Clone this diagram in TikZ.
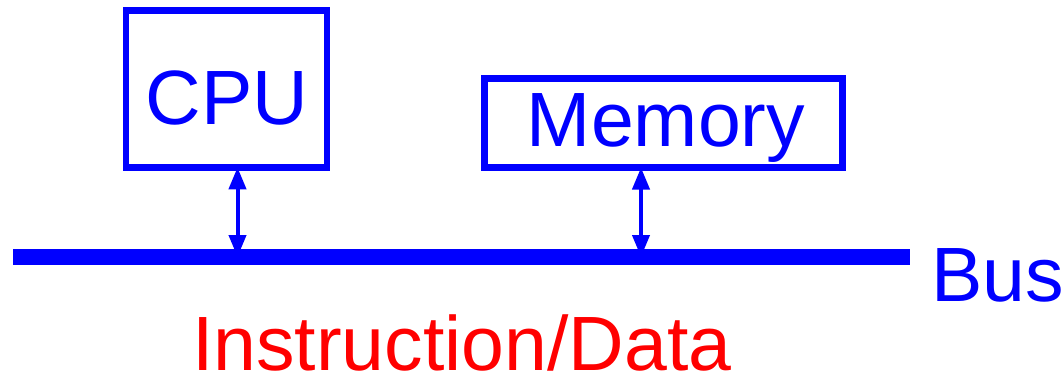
\documentclass[tikz,border=0pt]{standalone}
\usepackage{fontspec}
\setmainfont{Liberation Sans}
\usetikzlibrary{arrows.meta}
\definecolor{busblue}{RGB}{0,0,255}
\definecolor{labelred}{RGB}{255,0,0}
\tikzset{
  unitbox/.style={draw=busblue, line width=6.7pt, inner sep=0pt, outer sep=0pt},
  busbar/.style={fill=busblue, draw=none, inner sep=0pt, outer sep=0pt,
    minimum width=896.7pt, minimum height=15.7pt},
  bigtext/.style={inner sep=0pt, outer sep=0pt, anchor=base,
    font=\fontsize{77}{80}\selectfont},
  link/.style={draw=busblue, line width=4pt,
    {Triangle[length=22pt,width=17pt]}-{Triangle[length=22pt,width=17pt]}}
}
\begin{document}
\begin{tikzpicture}[x=1pt, y=-1pt]
  \useasboundingbox (0,0) rectangle (1063,372);

  % processor and memory units
  \node[unitbox, minimum width=201pt, minimum height=156.6pt] (cpu) at (226.5,89) {};
  \node[unitbox, minimum width=358pt, minimum height=89pt] (mem) at (663.5,123) {};
  \node[bigtext, text=busblue] (cpulbl) at (227,124) {CPU};
  \node[bigtext, text=busblue] (memlbl) at (666,146) {Memory};

  % shared bus
  \node[busbar] (bus) at (461.65,257) {};
  \node[bigtext, anchor=base west, text=busblue] (buslbl) at (931,301.7) {Bus};
  \node[bigtext, anchor=base west, text=labelred] (datalbl) at (192,370) {Instruction/Data};

  % bidirectional links to the bus
  \draw[link] ([xshift=11pt]cpu.south) -- ([xshift=11pt]cpu.south |- bus.center);
  \draw[link] ([xshift=-22.5pt]mem.south) -- ([xshift=-22.5pt]mem.south |- bus.center);
\end{tikzpicture}
\end{document}
